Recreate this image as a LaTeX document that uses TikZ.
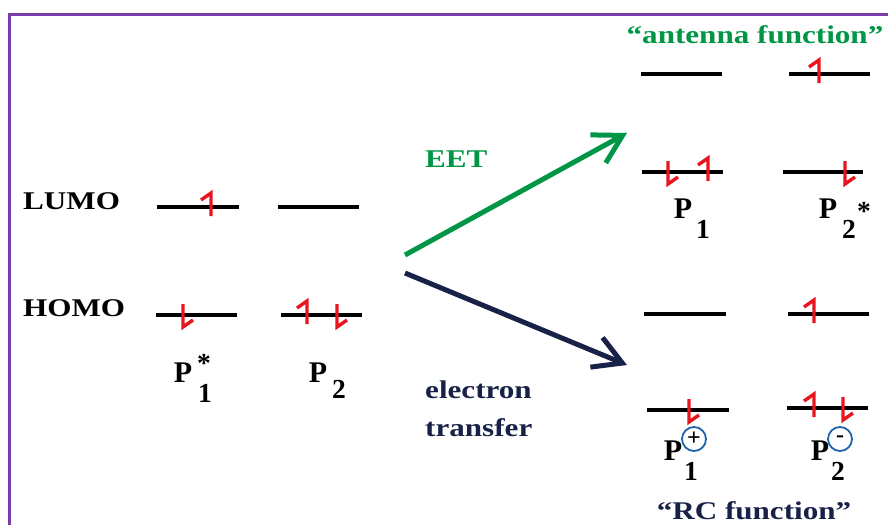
\documentclass[tikz,border=0pt]{standalone}
\usepackage{fontspec}
\setmainfont{Liberation Serif}
\usetikzlibrary{arrows.meta}
\definecolor{framepurple}{RGB}{120,62,170}
\definecolor{eetgreen}{RGB}{0,150,70}
\definecolor{navy}{RGB}{24,34,72}
\definecolor{spinred}{RGB}{232,20,30}
\definecolor{ionblue}{RGB}{30,100,170}
\newcommand{\wt}[1]{\scalebox{1.22}[1]{#1}}
\newcommand{\spinup}[2]{\draw[spinline] (#1,#2+9) -- (#1,#2-14) -- (#1-10,#2-7);}
\newcommand{\spindown}[2]{\draw[spinline] (#1,#2-11) -- (#1,#2+12) -- (#1+10,#2+5);}
\tikzset{
  level/.style={line width=3.2pt, black, line cap=butt},
  spinline/.style={line width=3.4pt, spinred, line cap=butt, line join=miter},
  txt/.style={inner sep=0pt, font=\fontsize{25.5}{30}\selectfont\bfseries},
  plab/.style={inner sep=0pt, font=\fontsize{30}{32}\selectfont\bfseries},
  sublab/.style={inner sep=0pt, font=\fontsize{27.5}{30}\selectfont\bfseries},
  bigarrow/.style={line width=5pt, -{Straight Barb[length=28pt,width=32pt]}},
  ion/.style={circle, draw=ionblue, line width=1.8pt, minimum size=24pt, inner sep=0pt, font=\fontsize{24}{24}\selectfont\bfseries}
}
\begin{document}
\begin{tikzpicture}[x=1pt,y=-1pt]
\useasboundingbox (0,0) rectangle (888,525);
% frame
\draw[framepurple, line width=3pt] (9.5,525) -- (9.5,14) -- (888,14);

% labels
\node[txt, anchor=base west] (lumo) at (23,209) {\wt{LUMO}};
\node[txt, anchor=base west] (homo) at (23,316) {\wt{HOMO}};
\node[txt, anchor=base, text=eetgreen] (antenna) at (755,43) {\wt{“antenna function”}};
\node[txt, anchor=base, text=navy] (rc) at (754,519) {\wt{“RC function”}};
\node[txt, anchor=base west, text=eetgreen] (eet) at (425,167) {\wt{EET}};
\node[txt, anchor=base west, text=navy] (electron) at (425,398) {\wt{electron}};
\node[txt, anchor=base west, text=navy] (transfer) at (425,436) {\wt{transfer}};

% left levels
\draw[level] (157,207) -- (239,207);
\draw[level] (278,207) -- (359,207);
\draw[level] (156,315) -- (237,315);
\draw[level] (281,315) -- (362,315);
\spinup{211}{207}
\spindown{183}{315}
\spinup{307}{315}
\spindown{337}{315}

% right top levels
\draw[level] (641,74) -- (722,74);
\draw[level] (789,74) -- (870,74);
\draw[level] (642,172) -- (723,172);
\draw[level] (783,172) -- (863,172);
\spinup{819}{74}
\spindown{668}{172}
\spinup{708}{172}
\spindown{845}{172}

% right bottom levels
\draw[level] (644,314) -- (726,314);
\draw[level] (788,314) -- (869,314);
\draw[level] (647,410) -- (729,410);
\draw[level] (787,408) -- (868,408);
\spinup{814}{314}
\spindown{689}{410}
\spinup{814}{408}
\spindown{843}{408}

% molecule labels left
\node[plab, anchor=base] (pL1) at (183,382) {P};
\node[sublab] (pL1star) at (204,363) {*};
\node[sublab, anchor=base] (pL1sub) at (205,402) {1};
\node[plab, anchor=base] (pL2) at (318,382) {P};
\node[sublab, anchor=base] (pL2sub) at (339,398) {2};

% right top labels
\node[plab, anchor=base] (pA1) at (683,218) {P};
\node[sublab, anchor=base] (pA1sub) at (703,238) {1};
\node[plab, anchor=base] (pA2) at (828,218) {P};
\node[sublab, anchor=base] (pA2sub) at (849,238) {2};
\node[sublab] (pA2star) at (864,211) {*};

% right bottom labels
\node[plab, anchor=base] (pR1) at (673,460) {P};
\node[ion] (plus) at (694,439) {+};
\node[sublab, anchor=base] (pR1sub) at (691,480) {1};
\node[plab, anchor=base] (pR2) at (820,460) {P};
\node[ion] (minus) at (840,439) {-};
\node[sublab, anchor=base] (pR2sub) at (838,480) {2};

% arrows
\coordinate (eetS) at (405,255);
\coordinate (eetE) at (627,133);
\coordinate (etS) at (405,273);
\coordinate (etE) at (627,365);
\draw[bigarrow, eetgreen] (eetS) -- (eetE);
\draw[bigarrow, navy] (etS) -- (etE);
\end{tikzpicture}
\end{document}
